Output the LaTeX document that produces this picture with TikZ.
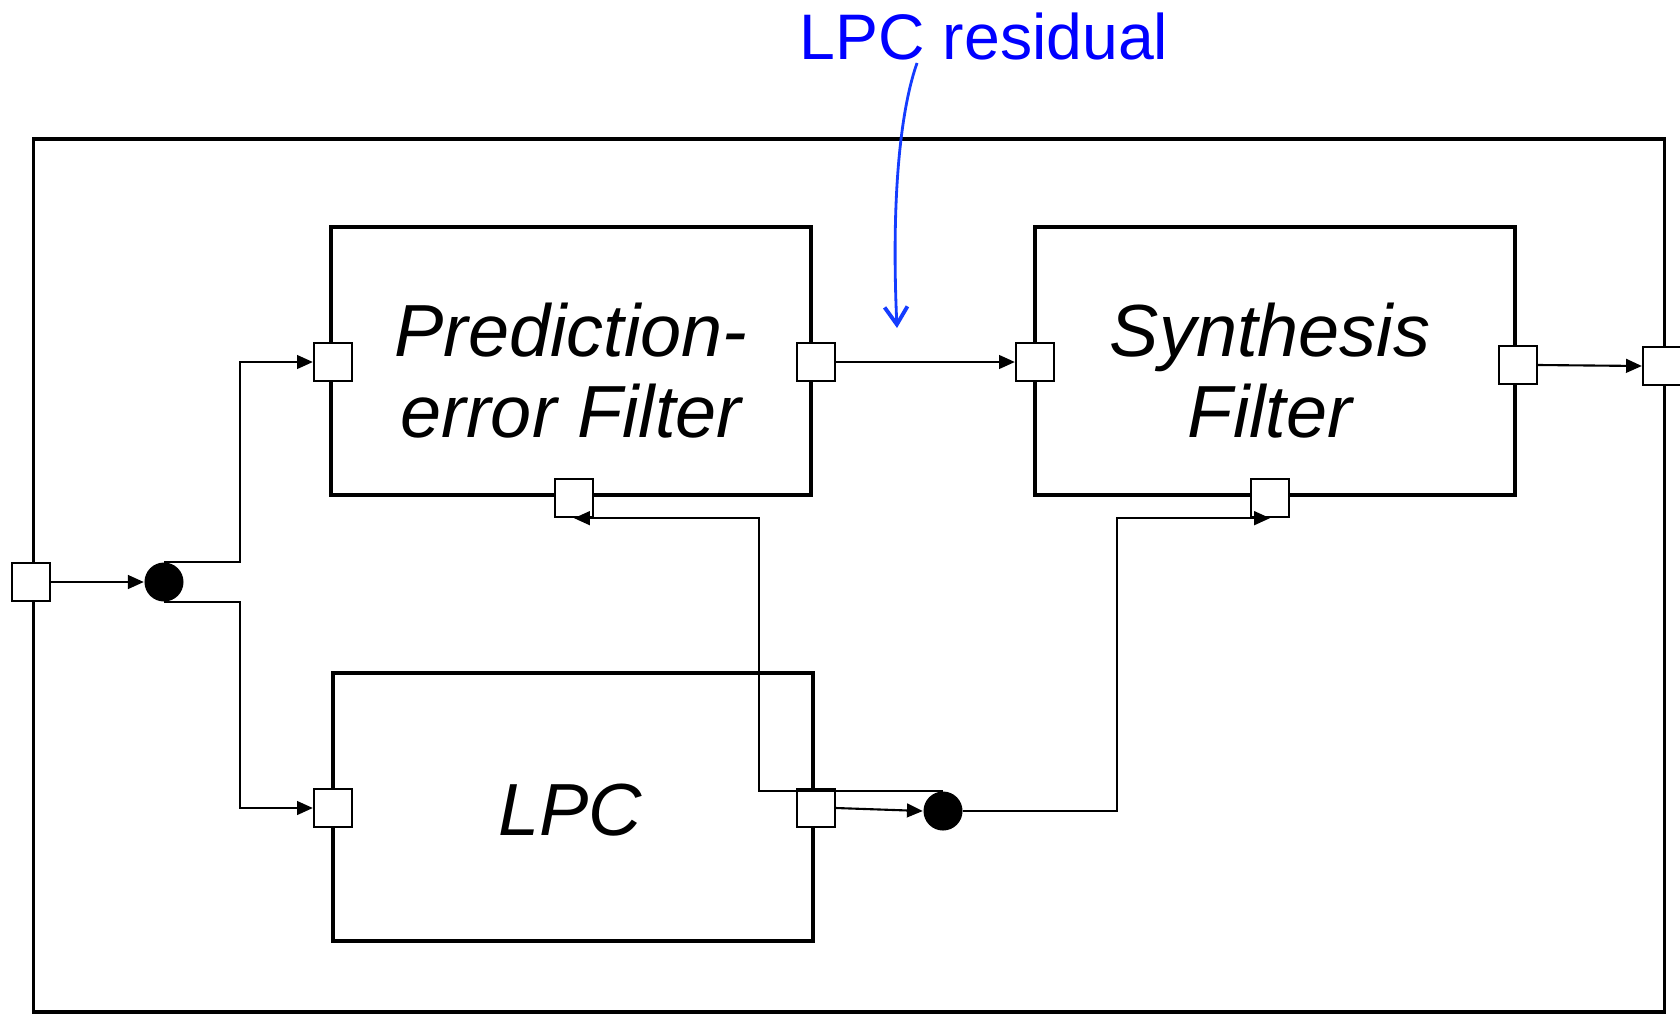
\documentclass[tikz,border=0pt]{standalone}
\usepackage{fontspec}
\setmainfont{Liberation Sans}
\usetikzlibrary{arrows.meta}
\definecolor{arrblue}{RGB}{20,60,255}
\begin{document}
\begin{tikzpicture}[x=0.01cm,y=-0.01cm,
  frame/.style={draw, line width=1.05pt, inner sep=0pt},
  block/.style={draw, line width=1.1pt, minimum width=4.8cm, minimum height=2.68cm, inner sep=0pt},
  port/.style={draw, fill=white, line width=0.65pt, minimum size=0.38cm, inner sep=0pt},
  dot/.style={circle, fill=black, minimum size=0.39cm, inner sep=0pt},
  wire/.style={line width=0.6pt},
  arr/.style={wire, -{Triangle[length=4.5pt,width=3.9pt]}},
  lbl/.style={font=\fontsize{21}{23}\selectfont\itshape, inner sep=0pt, align=center},
]
\useasboundingbox (0,0) rectangle (1680,1015);
% outer frame
\node[frame, minimum width=16.3cm, minimum height=8.73cm] (outer) at (849,575.5) {};
% blocks
\node[block] (pef) at (571,361) {};
\node[block] (syn) at (1275,361) {};
\node[block] (lpc) at (573,807) {};
% texts (base anchor = last line)
\node[lbl, anchor=base] (pt) at (571,437) {Prediction-\\error Filter};
\node[lbl, anchor=base] (st) at (1270,437) {Synthesis\\Filter};
\node[lbl, anchor=base] (lt) at (570,835) {LPC};
% ports
\node[port] (oin) at (31,582) {};
\node[port] (oout) at (1662,366) {};
\node[port] (pin) at (333,362) {};
\node[port] (pout) at (816,362) {};
\node[port] (pbot) at (574,498) {};
\node[port] (sin) at (1035,362) {};
\node[port] (sout) at (1518,365) {};
\node[port] (sbot) at (1270,498) {};
\node[port] (lin) at (333,808) {};
\node[port] (lout) at (816,808) {};
% junctions
\node[dot] (dot1) at (164,582) {};
\node[dot] (dot2) at (943,811) {};
% wires
\draw[arr] (oin.east) -- (dot1.west);
\draw[arr] (dot1.north) -- ++(76,0) |- (pin.west);
\draw[arr] (dot1.south) -- ++(76,0) |- (lin.west);
\draw[arr] (pout.east) -- (sin.west);
\draw[arr] (sout.east) -- (oout.west);
\draw[arr] (lout.east) -- (dot2.west);
\draw[arr] (dot2.north) -- ++(-184,0) |- (pbot.south);
\draw[arr] (dot2.east) -- ++(154,0) |- (sbot.south);
% annotation
\node[font=\fontsize{18.3}{22}\selectfont, text=blue, anchor=base, inner sep=0pt] (res) at (984,59) {LPC residual};
\coordinate (rs) at (917,63);
\coordinate (re) at (897,328);
\draw[arrblue, line width=0.8pt, -{Straight Barb[length=5pt,width=6.5pt,line width=1.1pt]}] (rs) .. controls (897,120) and (892,220) .. (re);
\end{tikzpicture}
\end{document}
